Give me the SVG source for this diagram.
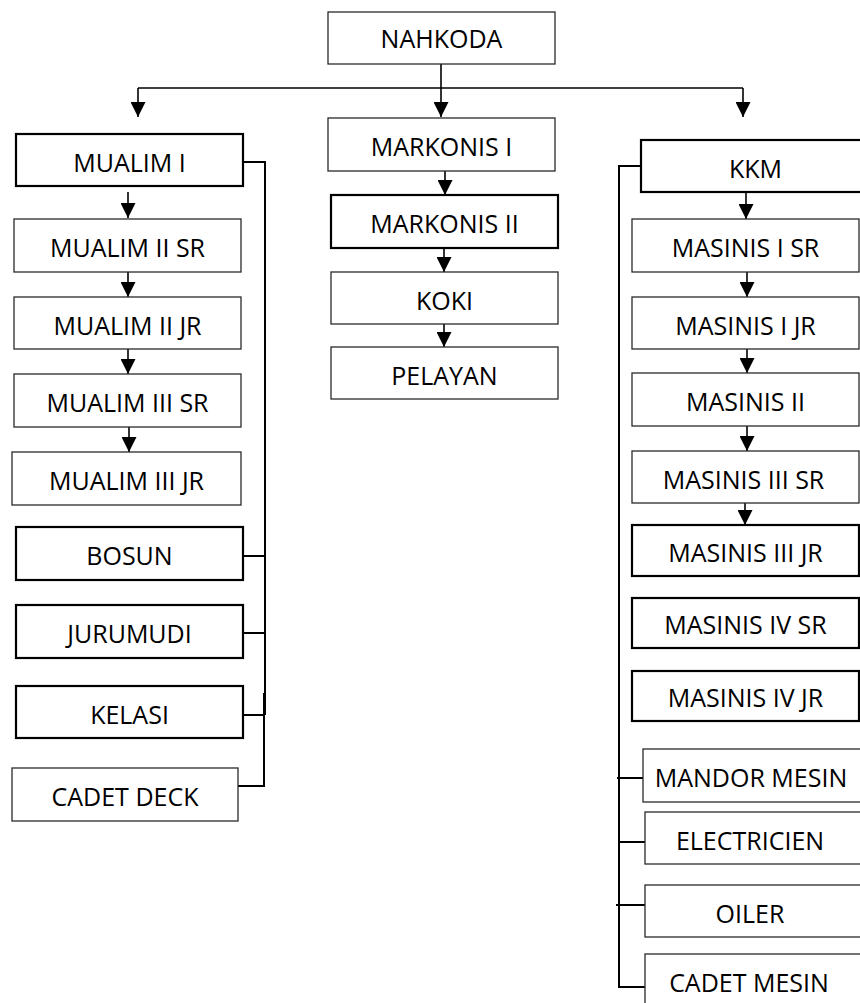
<svg xmlns="http://www.w3.org/2000/svg" width="860" height="1003" viewBox="0 0 860 1003">
<style>
.b{fill:#fff;stroke:#2a2a2a;stroke-width:1.3}
.t{fill:#fff;stroke:#000;stroke-width:2.2}
text{font-family:"Open Sans","Liberation Sans",sans-serif;font-size:25px;fill:#000;text-anchor:middle}
.c{fill:none;stroke:#000;stroke-width:2}
.a{fill:none;stroke:#000;stroke-width:1.6}
</style>
<defs>
<marker id="ah" markerUnits="userSpaceOnUse" markerWidth="15" markerHeight="15" refX="15" refY="7.5" orient="auto" viewBox="0 0 15 15">
<path d="M0,0 L15,7.5 L0,15 z" fill="#000"/>
</marker>
</defs>
<rect width="860" height="1003" fill="#fff"/>
<g id="connectors">
<path class="a" d="M441,64 V117" marker-end="url(#ah)"/>
<path class="a" d="M138,88 H743"/>
<path class="a" d="M138,88 V117" marker-end="url(#ah)"/>
<path class="a" d="M743,88 V117" marker-end="url(#ah)"/>
<path class="a" d="M445,171 V195" marker-end="url(#ah)"/>
<path class="a" d="M444,248 V272" marker-end="url(#ah)"/>
<path class="a" d="M444,324 V347" marker-end="url(#ah)"/>
<path class="a" d="M128,192 V218" marker-end="url(#ah)"/>
<path class="a" d="M128,272 V297" marker-end="url(#ah)"/>
<path class="a" d="M128,349 V374" marker-end="url(#ah)"/>
<path class="a" d="M129,423 V452" marker-end="url(#ah)"/>
<path class="a" d="M746,192 V219" marker-end="url(#ah)"/>
<path class="a" d="M747,272 V297" marker-end="url(#ah)"/>
<path class="a" d="M747,349 V373" marker-end="url(#ah)"/>
<path class="a" d="M747,426 V451" marker-end="url(#ah)"/>
<path class="a" d="M745,503 V525" marker-end="url(#ah)"/>
<path class="c" d="M243,162 H265 V715"/>
<path class="c" d="M243,556 H265"/>
<path class="c" d="M243,633 H265"/>
<path class="c" d="M243,715 H265"/>
<path class="c" d="M264,693 V786 H238"/>
<path class="c" d="M641,166 H619 V987 H645"/>
<path class="c" d="M617,778 H643"/>
<path class="c" d="M619,842 H646"/>
<path class="c" d="M616,905 H645"/>
</g>
<g id="nahkoda"><rect class="b" x="328" y="12" width="227" height="52"/><text x="441.5" y="47.5">NAHKODA</text></g>
<g id="mualim1"><rect class="t" x="16" y="134" width="227" height="52"/><text x="129.5" y="171.5">MUALIM I</text></g>
<g id="mualim2sr"><rect class="b" x="14" y="219" width="227" height="53"/><text x="127.5" y="256.5">MUALIM II SR</text></g>
<g id="mualim2jr"><rect class="b" x="14" y="297" width="227" height="52"/><text x="127.5" y="334.5">MUALIM II JR</text></g>
<g id="mualim3sr"><rect class="b" x="14" y="374" width="227" height="53"/><text x="127.5" y="411.5">MUALIM III SR</text></g>
<g id="mualim3jr"><rect class="b" x="12" y="452" width="229" height="53"/><text x="126.5" y="489.5">MUALIM III JR</text></g>
<g id="bosun"><rect class="t" x="16" y="527" width="227" height="53"/><text x="129.5" y="564.5">BOSUN</text></g>
<g id="jurumudi"><rect class="t" x="16" y="605" width="227" height="53"/><text x="129.5" y="642.5">JURUMUDI</text></g>
<g id="kelasi"><rect class="t" x="16" y="686" width="227" height="52"/><text x="129.5" y="723.5">KELASI</text></g>
<g id="cadetdeck"><rect class="b" x="12" y="768" width="226" height="53"/><text x="125" y="805.5">CADET DECK</text></g>
<g id="markonis1"><rect class="b" x="328" y="118" width="227" height="53"/><text x="441.5" y="155.5">MARKONIS I</text></g>
<g id="markonis2"><rect class="t" x="331" y="195" width="227" height="53"/><text x="444.5" y="232.5">MARKONIS II</text></g>
<g id="koki"><rect class="b" x="331" y="272" width="227" height="52"/><text x="444.5" y="309.5">KOKI</text></g>
<g id="pelayan"><rect class="b" x="331" y="347" width="227" height="52"/><text x="444.5" y="384.5">PELAYAN</text></g>
<g id="kkm"><rect class="t" x="641" y="140" width="225" height="52"/><text x="755.5" y="177.5">KKM</text></g>
<g id="masinis1sr"><rect class="b" x="632" y="219" width="227" height="53"/><text x="745.5" y="256.5">MASINIS I SR</text></g>
<g id="masinis1jr"><rect class="b" x="632" y="297" width="227" height="52"/><text x="745.5" y="334.5">MASINIS I JR</text></g>
<g id="masinis2"><rect class="b" x="632" y="373" width="227" height="53"/><text x="745.5" y="410.5">MASINIS II</text></g>
<g id="masinis3sr"><rect class="b" x="632" y="451" width="227" height="52"/><text x="743.5" y="488.5">MASINIS III SR</text></g>
<g id="masinis3jr"><rect class="t" x="632" y="525" width="227" height="51"/><text x="745.5" y="561.5">MASINIS III JR</text></g>
<g id="masinis4sr"><rect class="t" x="632" y="598" width="227" height="50"/><text x="745.5" y="633.5">MASINIS IV SR</text></g>
<g id="masinis4jr"><rect class="t" x="632" y="671" width="227" height="50"/><text x="745.5" y="706.5">MASINIS IV JR</text></g>
<g id="mandormesin"><rect class="b" x="643" y="749" width="225" height="53"/><text x="751" y="786.5">MANDOR MESIN</text></g>
<g id="electricien"><rect class="b" x="645" y="812" width="223" height="52"/><text x="750" y="849.5">ELECTRICIEN</text></g>
<g id="oiler"><rect class="b" x="645" y="885" width="223" height="52"/><text x="750" y="922.5">OILER</text></g>
<g id="cadetmesin"><rect class="b" x="645" y="954" width="223" height="60"/><text x="749" y="991.5">CADET MESIN</text></g>
</svg>
